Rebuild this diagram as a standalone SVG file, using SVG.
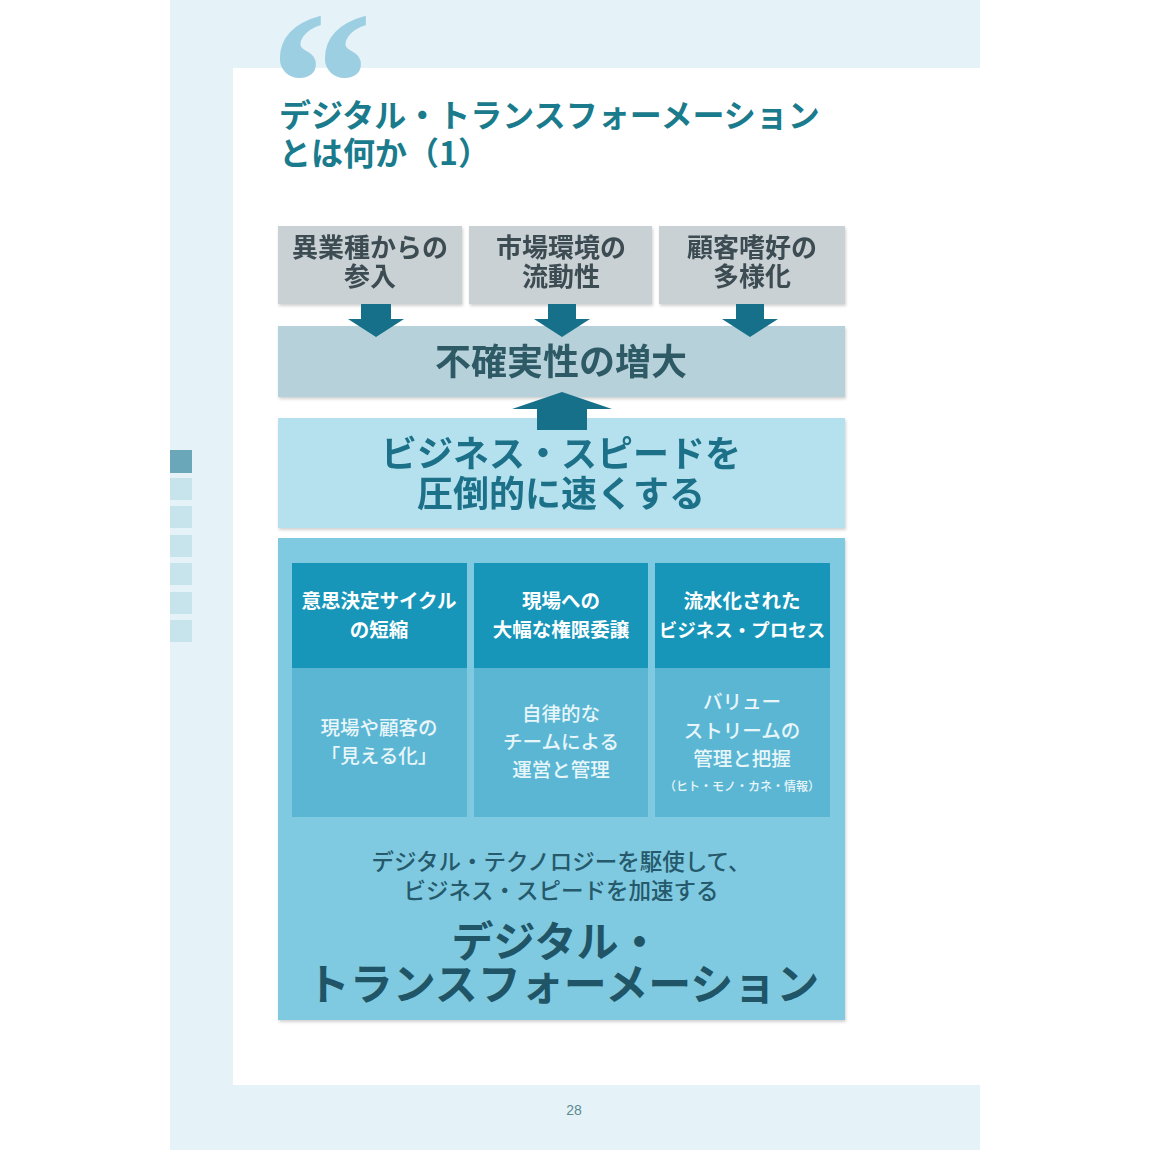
<svg xmlns="http://www.w3.org/2000/svg" width="1150" height="1150" viewBox="0 0 1150 1150">
<style>
text{font-family:"Noto Sans CJK JP","Noto Sans",sans-serif;text-anchor:middle;font-weight:bold}
.title{fill:#1a7b8c;font-size:32px;text-anchor:start}
.grey{fill:#c9d1d5}
.gt{fill:#3d4c52;font-size:26px}
.arr{fill:#17708a}
.hd{fill:#1796b9}
.bd{fill:#5bb6d4}
.ht{fill:#ffffff;font-size:19.5px}
.bt{fill:#e8f6fa;font-size:19.5px;font-weight:500}
.tab{fill:#c7e3ec}
</style>
<defs>
<filter id="sh" x="-5%" y="-5%" width="110%" height="115%">
<feDropShadow dx="1" dy="2" stdDeviation="1.5" flood-color="#000" flood-opacity="0.18"/>
</filter>
</defs>
<rect x="0" y="0" width="1150" height="1150" fill="#ffffff"/>
<rect x="170" y="0" width="810" height="1150" fill="#e5f3f9"/>
<rect x="233" y="68" width="747" height="1017" fill="#ffffff"/>
<g id="tabs">
<rect x="170" y="450" width="22" height="23" fill="#6aa7b8"/>
<rect class="tab" x="170" y="478" width="22" height="22"/>
<rect class="tab" x="170" y="506" width="22" height="22"/>
<rect class="tab" x="170" y="535" width="22" height="22"/>
<rect class="tab" x="170" y="563" width="22" height="22"/>
<rect class="tab" x="170" y="592" width="22" height="22"/>
<rect class="tab" x="170" y="620" width="22" height="22"/>
</g>
<text x="270" y="153" style="font-family:'Liberation Serif',serif;font-size:205px;fill:#9ccfe2;text-anchor:start;font-weight:bold">“</text>
<g id="title">
<text class="title" x="279" y="127">デジタル・トランスフォーメーション</text>
<text class="title" x="279" y="165">とは何か（1）</text>
</g>
<g id="n1" filter="url(#sh)"><rect class="grey" x="278" y="226" width="184" height="78"/>
<text class="gt" x="370" y="257">異業種からの</text><text class="gt" x="370" y="286">参入</text></g>
<g id="n2" filter="url(#sh)"><rect class="grey" x="469" y="226" width="183" height="78"/>
<text class="gt" x="561" y="257">市場環境の</text><text class="gt" x="561" y="286">流動性</text></g>
<g id="n3" filter="url(#sh)"><rect class="grey" x="659" y="226" width="186" height="78"/>
<text class="gt" x="752" y="257">顧客嗜好の</text><text class="gt" x="752" y="286">多様化</text></g>
<g id="n4" filter="url(#sh)"><rect x="278" y="326" width="567" height="71" fill="#b7d1db"/>
<text x="561" y="375" style="fill:#2d5a66;font-size:36px">不確実性の増大</text></g>
<g id="n5" filter="url(#sh)"><rect x="278" y="418" width="567" height="110" fill="#b5e1ef"/>
<text x="561" y="467" style="fill:#1c7189;font-size:36px">ビジネス・スピードを</text>
<text x="561" y="507" style="fill:#1c7189;font-size:36px">圧倒的に速くする</text></g>
<g id="connectors">
<polygon class="arr" points="361,304 391,304 391,319 404,319 376,337 348,319 361,319"/>
<polygon class="arr" points="548,304 576,304 576,319 590,319 562,337 534,319 548,319"/>
<polygon class="arr" points="736,304 764,304 764,319 778,319 750,337 722,319 736,319"/>
<polygon class="arr" points="562,392 612,409 587,409 587,430 537,430 537,409 512,409"/>
</g>
<g id="n6" filter="url(#sh)"><rect x="278" y="538" width="567" height="482" fill="#7fcae0"/></g>
<g id="c1"><rect class="bd" x="292" y="563" width="175" height="254"/><rect class="hd" x="292" y="563" width="175" height="105"/>
<text class="ht" x="379" y="608">意思決定サイクル</text><text class="ht" x="379" y="637">の短縮</text>
<text class="bt" x="379" y="735">現場や顧客の</text><text class="bt" x="379" y="763">「見える化」</text></g>
<g id="c2"><rect class="bd" x="474" y="563" width="174" height="254"/><rect class="hd" x="474" y="563" width="174" height="105"/>
<text class="ht" x="561" y="608">現場への</text><text class="ht" x="561" y="637">大幅な権限委譲</text>
<text class="bt" x="561" y="721">自律的な</text><text class="bt" x="561" y="749">チームによる</text><text class="bt" x="561" y="777">運営と管理</text></g>
<g id="c3"><rect class="bd" x="655" y="563" width="175" height="254"/><rect class="hd" x="655" y="563" width="175" height="105"/>
<text class="ht" x="742" y="608">流水化された</text><text class="ht" x="742" y="637" style="font-size:18.5px">ビジネス・プロセス</text>
<text class="bt" x="742" y="709">バリュー</text><text class="bt" x="742" y="738">ストリームの</text><text class="bt" x="742" y="766">管理と把握</text>
<text class="bt" x="742" y="791" style="font-size:12px">（ヒト・モノ・カネ・情報）</text></g>
<g id="dx">
<text x="561" y="870" style="fill:#25596b;font-size:22.5px;font-weight:500">デジタル・テクノロジーを駆使して、</text>
<text x="561" y="899" style="fill:#25596b;font-size:22.5px;font-weight:500">ビジネス・スピードを加速する</text>
<text x="556" y="957" style="fill:#1f5566;font-size:42px">デジタル・</text>
<text x="563" y="1000" style="fill:#1f5566;font-size:43px">トランスフォーメーション</text>
</g>
<text x="574" y="1115" style="fill:#5d8b92;font-size:14px;font-weight:normal;font-family:'Liberation Sans',sans-serif">28</text>
</svg>
